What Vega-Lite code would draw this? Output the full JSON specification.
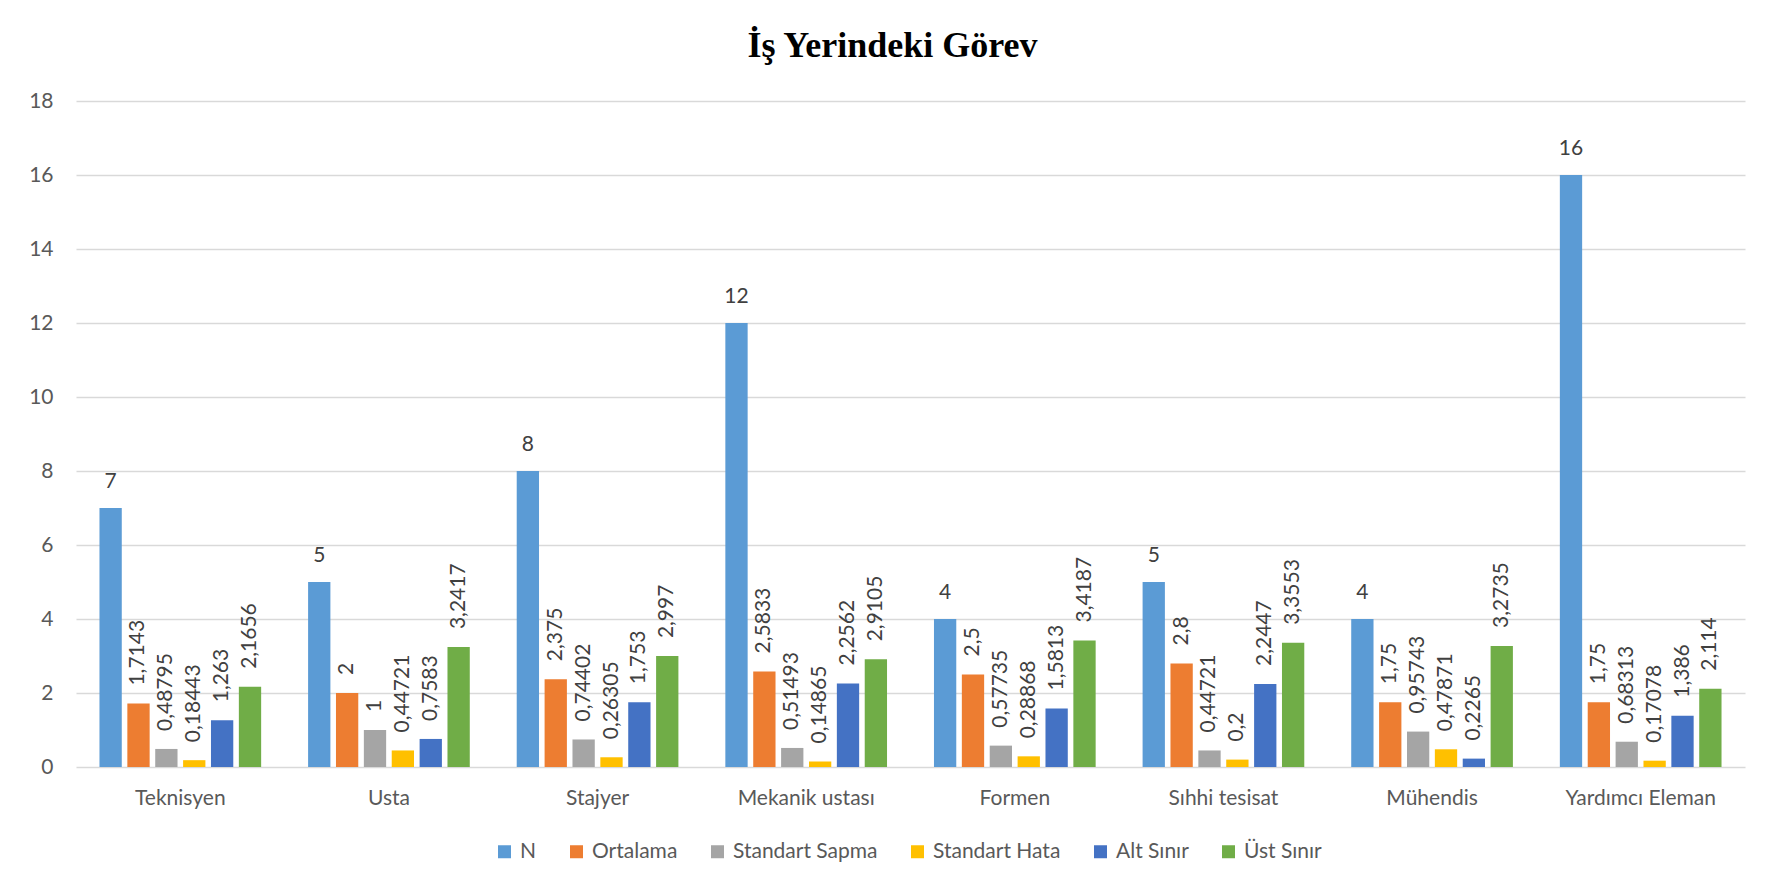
{
  "$schema": "https://vega.github.io/schema/vega-lite/v6.json",
  "width": 1669,
  "height": 666,
  "autosize": {"type": "none"},
  "padding": {"left": 76, "top": 101, "right": 26, "bottom": 121},
  "background": "white",
  "title": {
    "text": "İş Yerindeki Görev",
    "font": "Liberation Serif",
    "fontSize": 36,
    "fontWeight": "bold",
    "color": "#000000",
    "anchor": "middle",
    "frame": "group",
    "baseline": "alphabetic",
    "dx": -18,
    "dy": 44,
    "offset": 41
  },
  "data": {
    "values": [
      {"gorev": "Teknisyen", "N": 7, "Ortalama": 1.7143, "Standart Sapma": 0.48795, "Standart Hata": 0.18443, "Alt Sınır": 1.263, "Üst Sınır": 2.1656},
      {"gorev": "Usta", "N": 5, "Ortalama": 2, "Standart Sapma": 1, "Standart Hata": 0.44721, "Alt Sınır": 0.7583, "Üst Sınır": 3.2417},
      {"gorev": "Stajyer", "N": 8, "Ortalama": 2.375, "Standart Sapma": 0.74402, "Standart Hata": 0.26305, "Alt Sınır": 1.753, "Üst Sınır": 2.997},
      {"gorev": "Mekanik ustası", "N": 12, "Ortalama": 2.5833, "Standart Sapma": 0.51493, "Standart Hata": 0.14865, "Alt Sınır": 2.2562, "Üst Sınır": 2.9105},
      {"gorev": "Formen", "N": 4, "Ortalama": 2.5, "Standart Sapma": 0.57735, "Standart Hata": 0.28868, "Alt Sınır": 1.5813, "Üst Sınır": 3.4187},
      {"gorev": "Sıhhi tesisat", "N": 5, "Ortalama": 2.8, "Standart Sapma": 0.44721, "Standart Hata": 0.2, "Alt Sınır": 2.2447, "Üst Sınır": 3.3553},
      {"gorev": "Mühendis", "N": 4, "Ortalama": 1.75, "Standart Sapma": 0.95743, "Standart Hata": 0.47871, "Alt Sınır": 0.2265, "Üst Sınır": 3.2735},
      {"gorev": "Yardımcı Eleman", "N": 16, "Ortalama": 1.75, "Standart Sapma": 0.68313, "Standart Hata": 0.17078, "Alt Sınır": 1.386, "Üst Sınır": 2.114}
    ]
  },
  "transform": [
    {"fold": ["N", "Ortalama", "Standart Sapma", "Standart Hata", "Alt Sınır", "Üst Sınır"], "as": ["olcut", "deger"]},
    {"calculate": "replace(toString(datum.deger), '.', ',')", "as": "etiket"}
  ],
  "encoding": {
    "x": {
      "field": "gorev",
      "type": "nominal",
      "sort": ["Teknisyen", "Usta", "Stajyer", "Mekanik ustası", "Formen", "Sıhhi tesisat", "Mühendis", "Yardımcı Eleman"],
      "scale": {"paddingInner": 0.225, "paddingOuter": 0.1125},
      "axis": {
        "title": null,
        "labelAngle": 0,
        "ticks": false,
        "tickSize": 0,
        "domain": false,
        "labelFont": "Lato",
        "labelFontSize": 21,
        "labelColor": "#595959",
        "labelBaseline": "alphabetic",
        "labelPadding": 37
      }
    },
    "xOffset": {
      "field": "olcut",
      "type": "nominal",
      "sort": ["N", "Ortalama", "Standart Sapma", "Standart Hata", "Alt Sınır", "Üst Sınır"],
      "scale": {"paddingInner": 0.2, "paddingOuter": 0}
    },
    "y": {
      "field": "deger",
      "type": "quantitative",
      "scale": {"domain": [0, 18], "nice": false},
      "axis": {
        "title": null,
        "values": [0, 2, 4, 6, 8, 10, 12, 14, 16, 18],
        "domain": false,
        "ticks": false,
        "tickSize": 0,
        "grid": true,
        "gridColor": "#D9D9D9",
        "gridWidth": 1.5,
        "labelFont": "Lato",
        "labelFontSize": 21,
        "labelColor": "#595959",
        "labelPadding": 23
      }
    }
  },
  "layer": [
    {
      "mark": {"type": "bar"},
      "encoding": {
        "color": {
          "field": "olcut",
          "type": "nominal",
          "scale": {
            "domain": ["N", "Ortalama", "Standart Sapma", "Standart Hata", "Alt Sınır", "Üst Sınır"],
            "range": ["#5B9BD5", "#ED7D31", "#A5A5A5", "#FFC000", "#4472C4", "#70AD47"]
          },
          "legend": {
            "title": null,
            "orient": "none",
            "direction": "horizontal",
            "columns": 6,
            "legendX": 418,
            "legendY": 740,
            "padding": 0,
            "symbolType": "square",
            "symbolSize": 169,
            "symbolStrokeWidth": 0,
            "labelFont": "Lato",
            "labelFontSize": 21,
            "labelColor": "#595959",
            "labelOffset": 5,
            "columnPadding": 29
          }
        }
      }
    },
    {
      "transform": [{"filter": "datum.olcut === 'N'"}],
      "mark": {"type": "text", "font": "Lato", "fontSize": 21, "color": "#404040", "align": "center", "baseline": "alphabetic", "dy": -20},
      "encoding": {"text": {"field": "etiket"}}
    },
    {
      "transform": [{"filter": "datum.olcut !== 'N'"}],
      "mark": {"type": "text", "font": "Lato", "fontSize": 21, "color": "#404040", "angle": 270, "align": "left", "baseline": "middle", "dx": 18},
      "encoding": {"text": {"field": "etiket"}}
    }
  ],
  "config": {
    "view": {"stroke": null}
  }
}
